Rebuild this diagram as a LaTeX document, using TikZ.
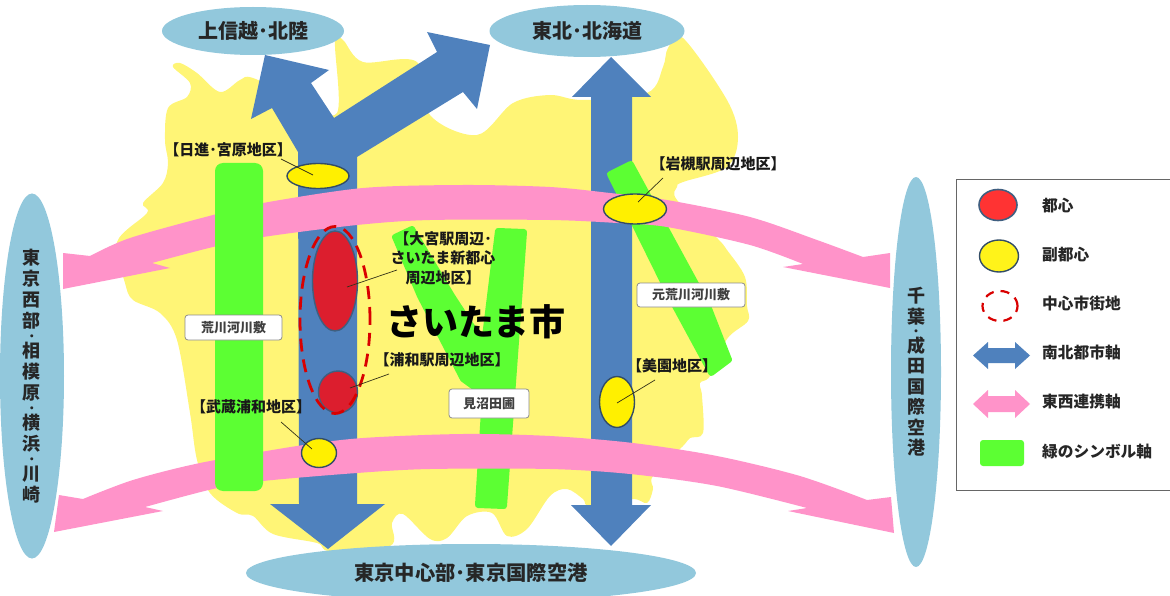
\documentclass[tikz,border=0pt]{standalone}
\usepackage{fontspec}
\setmainfont{Noto Sans CJK JP}
\usetikzlibrary{shapes.geometric}
\definecolor{regionblue}{HTML}{92C8DC}
\definecolor{land}{HTML}{FFF576}
\definecolor{axisblue}{HTML}{4F81BD}
\definecolor{axispink}{HTML}{FF93C9}
\definecolor{axisgreen}{HTML}{5CFF33}
\definecolor{corered}{HTML}{DC1E2E}
\definecolor{subyellow}{HTML}{FFF000}
\definecolor{rimblue}{HTML}{3F5F80}
\newcommand{\fsz}[1]{\fontsize{#1}{#1}\selectfont\bfseries}
\newcommand{\vdotrow}{\\[-8.3pt]{\fontsize{11}{11}\selectfont ・}\\[-3.7pt]}
\tikzset{
 region/.style={ellipse,fill=regionblue,inner sep=0pt,text=black!85},
 core/.style={ellipse,fill=corered,draw=rimblue,line width=1.4pt,inner sep=0pt},
 subcore/.style={ellipse,fill=subyellow,draw=rimblue!80!black,line width=1.4pt,inner sep=0pt},
 centerring/.style={ellipse,draw=red!85!black,line width=2.8pt,dash pattern=on 13pt off 8pt,inner sep=0pt},
 tag/.style={font=\fsz{15},text=black!90,inner sep=0pt,align=center},
 place/.style={rectangle,rounded corners=3pt,fill=white,draw=black!45,line width=.8pt,font=\fsz{13},text=black!75,inner sep=0pt},
 leader/.style={draw=black!80!land,line width=.7pt},
 legendtext/.style={font=\fsz{15.7},text=black!85,anchor=west,inner sep=0pt},
 greenaxis/.style={fill=axisgreen,draw=axisgreen,line width=6pt,line join=round},
}
\begin{document}
\begin{tikzpicture}[x=1pt,y=-1pt]
\useasboundingbox (0,0) rectangle (1170,596);
% land
\fill[land] plot[smooth cycle,tension=.55] coordinates {
 (173,67)(180,63)(197,73)(220,92)(240,80)(253,78)(300,100)(337,113)(335,42)(343,40)(363,62)(417,62)(430,115)
 (477,135)(513,103)(550,95)(583,100)(647,93)(663,67)(668,48)(683,38)(727,100)(738,137)(727,167)(683,182)(677,187)(677,200)
 (717,238)(727,250)(745,277)(747,306)(748,321)(727,339)(710,376)(700,383)(702,396)(703,433)(690,438)(683,446)
 (653,476)(653,489)(647,503)(632,499)(590,506)(583,499)(567,489)(550,496)(527,529)(507,536)(492,513)(467,516)
 (447,538)(430,539)(403,514)(392,523)(390,546)(330,551)(317,543)(273,534)(253,516)(237,513)(210,493)(197,460)
 (190,413)(177,340)(160,313)(133,300)(125,283)(117,242)(147,213)(143,203)(163,183)(168,163)(165,140)(168,108)(187,97)(190,83)};
% blue axes
\fill[axisblue] (299,504)--(270,504)--(328,549)--(385,504)--(357,504)--(357,157)--(463,92)--(477,109)--(490,45)--(427,32)--(437,52)--(334,118)--(311,83)--(329,70)--(265,55)--(251,119)--(272,108)--(298,152)--cycle;
\fill[axisblue] (611,57)--(651,97)--(632,97)--(632,505)--(651,505)--(611,546)--(571,505)--(591,505)--(591,97)--(572,97)--cycle;
% green axes under the pink
\path[greenaxis] (395,237)--(412,229)--(452,296)--(484,345)--(498,231)--(524,232)--(504,506)--(478,505)--(485,395)--(463,379)--(420,296)--cycle;
\path[greenaxis] (610,174.3)--(630.7,164)--(708,306)--(729,359.7)--(711.3,373)--(675,306)--cycle;
% pink axes
\fill[axispink] (63,253)--(90,256)--plot[smooth,tension=.5] coordinates {(90,256)(130,238)(213,215)(263,203)(363,188)(463,185)(550,187)(610,193)(667,200)(750,217)(817,240)(863,257)}
 --(890,253)--(890,288)--(783,267)--(803,264)--plot[smooth,tension=.5] coordinates {(803,264)(750,245)(667,227)(617,223)(550,220)(430,220)(357,225)(263,237)(213,247)(152,263)}
 --(170,268)--(63,289)--cycle;
\fill[axispink] (59,495)--(83,499)--plot[smooth,tension=.5] coordinates {(83,499)(133,480)(200,463)(297,446)(363,438)(463,434)(550,436)(633,443)(717,456)(800,476)(867,500)}
 --(891,497)--(894,533)--(788,511)--(807,508)--plot[smooth,tension=.5] coordinates {(807,508)(717,486)(630,474)(550,469)(430,469)(357,473)(263,481)(213,489)(145,507)}
 --(163,511)--(54,532)--cycle;
% green axis above the pink
\fill[axisgreen,rounded corners=8pt] (215,163) rectangle (263,491);
% region ellipses
\node[region,minimum width=182pt,minimum height=48pt,font=\fsz{20}] (nw) at (253,31) {上信越･北陸};
\node[region,minimum width=195pt,minimum height=52pt,font=\fsz{20}] (ne) at (587,31) {東北･北海道};
\node[region,minimum width=450pt,minimum height=58pt,font=\fsz{20.3}] (south) at (471,573) {東京中心部･東京国際空港};
\node[region,minimum width=64pt,minimum height=365pt,font=\fontsize{18}{21}\selectfont\bfseries,align=center] (west) at (32,376) {東\\京\\西\\部\vdotrow 相\\模\\原\vdotrow 横\\浜\vdotrow 川\\崎};
\node[region,minimum width=50pt,minimum height=390pt,font=\fontsize{18}{20.5}\selectfont\bfseries,align=center] (east) at (916,372) {千\\葉\vdotrow 成\\田\\国\\際\\空\\港};
% centres
\node[core,minimum width=45pt,minimum height=100pt] (omiya) at (335,281) {};
\node[core,minimum width=39pt,minimum height=42pt] (urawa) at (338,392) {};
\node[centerring,minimum width=70pt,minimum height=187pt] (ring) at (335,320) {};
\node[subcore,minimum width=62pt,minimum height=25pt] (nisshin) at (318,176) {};
\node[subcore,minimum width=63pt,minimum height=30pt] (iwatsuki) at (635,209) {};
\node[subcore,minimum width=35pt,minimum height=51pt] (misono) at (617,402) {};
\node[subcore,minimum width=35pt,minimum height=29pt] (musashi) at (319,453) {};
% labels
\node[tag] (tnisshin) at (228,150) {【日進･宮原地区】};
\node[tag,font=\fontsize{15}{19.5}\selectfont\bfseries] (tomiya) at (443,258) {【大宮駅周辺･\\さいたま新都心\\周辺地区】};
\node[tag] (turawa) at (442,360) {【浦和駅周辺地区】};
\node[tag] (tmusashi) at (251,407) {【武蔵浦和地区】};
\node[tag] (tiwatsuki) at (718,164) {【岩槻駅周辺地区】};
\node[tag] (tmisono) at (672,366) {【美園地区】};
\node[font=\fsz{36},inner sep=0pt] (city) at (476,322) {さいたま市};
\node[place,minimum width=97pt,minimum height=25pt] (arakawa) at (233.5,327.5) {荒川河川敷};
\node[place,minimum width=80pt,minimum height=29pt] (minuma) at (489,403.5) {見沼田圃};
\node[place,minimum width=108pt,minimum height=24pt] (moto) at (691,295) {元荒川河川敷};
% leaders
\coordinate (a1) at (281,159); \coordinate (a2) at (313,175);
\coordinate (b1) at (397,270); \coordinate (b2) at (347,287);
\coordinate (c1) at (389,374); \coordinate (c2) at (350,388);
\coordinate (d1) at (281,422); \coordinate (d2) at (312,449);
\coordinate (e1) at (663,178); \coordinate (e2) at (638,202);
\coordinate (f1) at (655,380); \coordinate (f2) at (617,403);
\draw[leader] (a1)--(a2);
\draw[leader] (b1)--(b2);
\draw[leader] (c1)--(c2);
\draw[leader] (d1)--(d2);
\draw[leader] (e1)--(e2);
\draw[leader] (f1)--(f2);
% legend
\node[rectangle,draw=black!60,line width=.8pt,fill=white,minimum width=214pt,minimum height=311pt,inner sep=0pt] (legend) at (1063,334.5) {};
\node[ellipse,fill=red!80!white,draw=rimblue,line width=1.6pt,inner sep=0pt,minimum width=38pt,minimum height=31pt] (lg1) at (998,205) {};
\node[subcore,fill=yellow!90!white,minimum width=39pt,minimum height=32pt] (lg2) at (999,256) {};
\node[centerring,line width=2.2pt,dash pattern=on 9pt off 7pt,minimum width=35pt,minimum height=30pt] (lg3) at (1000,306) {};
\fill[axisblue] (973,355.5)--(988,342)--(988,348)--(1015,348)--(1015,342)--(1030,355.5)--(1015,369)--(1015,363)--(988,363)--(988,369)--cycle;
\fill[axispink] (973,404)--(988,390)--(988,396)--(1015,396)--(1015,390)--(1030,404)--(1015,418)--(1015,412)--(988,412)--(988,418)--cycle;
\fill[axisgreen,rounded corners=3pt] (980,440) rectangle (1024,466);
\node[legendtext] (l1) at (1042,206) {都心};
\node[legendtext] (l2) at (1042,255) {副都心};
\node[legendtext] (l3) at (1042,304) {中心市街地};
\node[legendtext] (l4) at (1042,353) {南北都市軸};
\node[legendtext] (l5) at (1042,402) {東西連携軸};
\node[legendtext] (l6) at (1042,452) {緑のシンボル軸};
\end{tikzpicture}
\end{document}
